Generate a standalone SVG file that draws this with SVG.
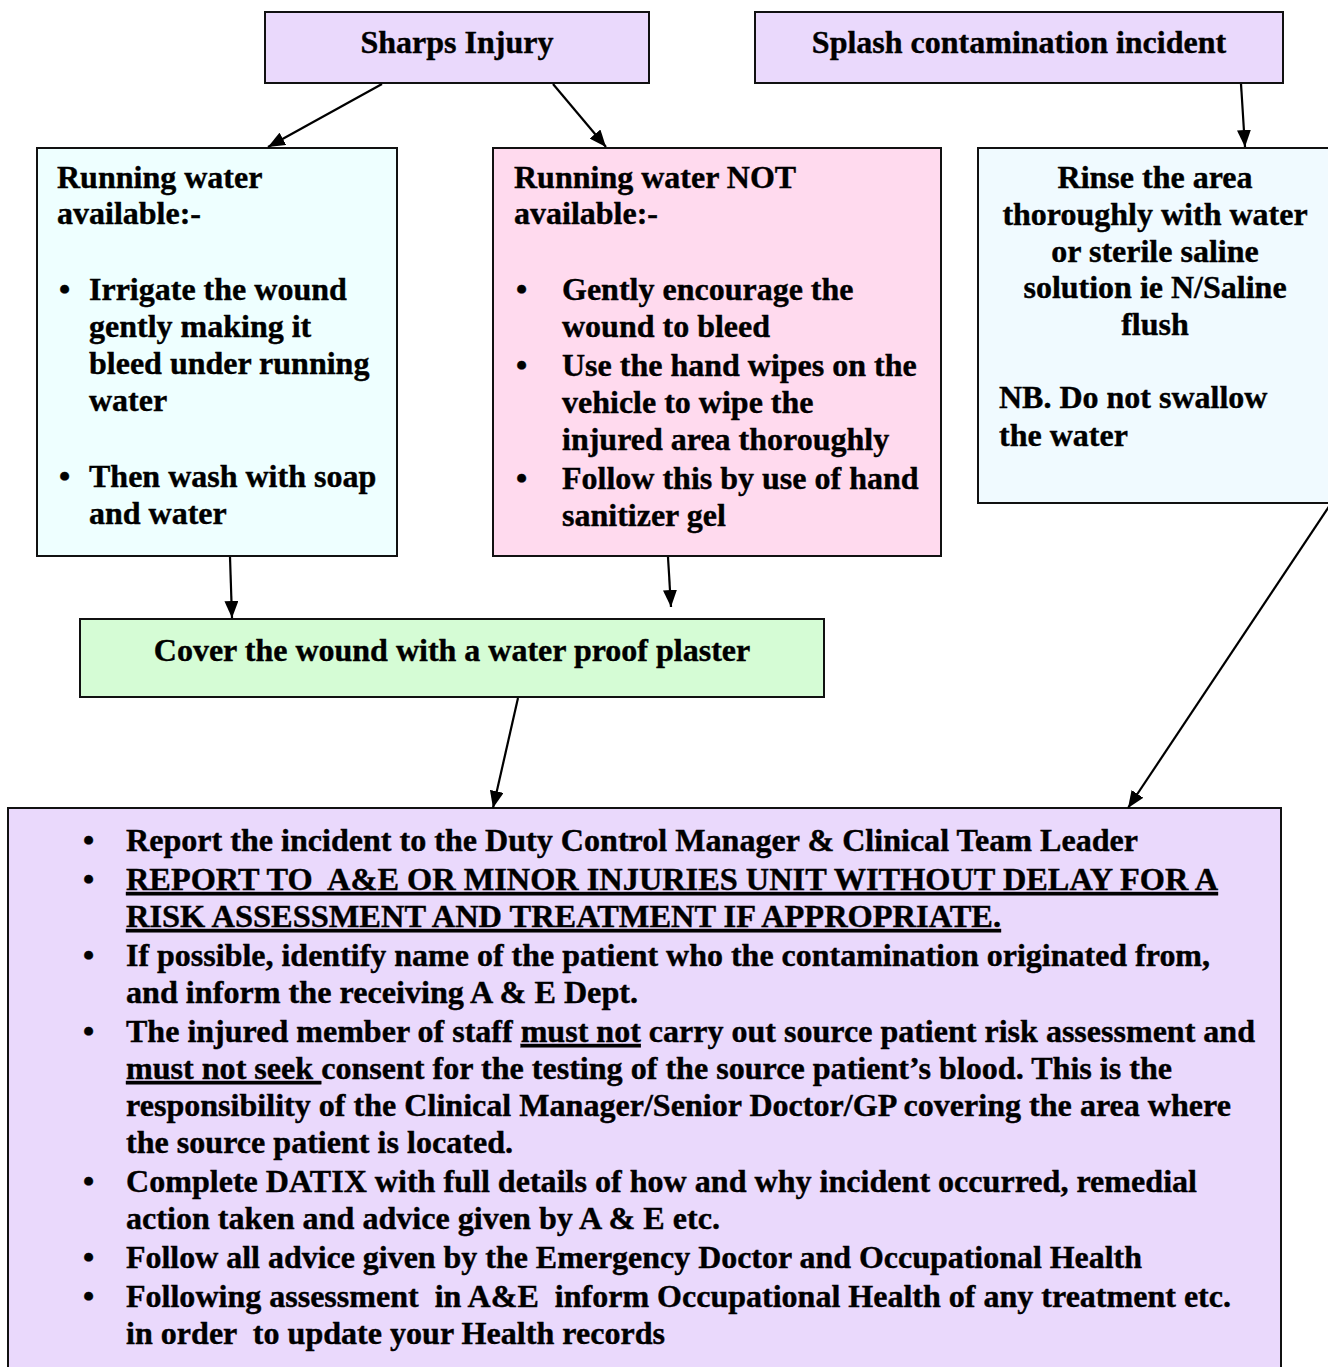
<svg xmlns="http://www.w3.org/2000/svg" width="1328" height="1367" viewBox="0 0 1328 1367">
<defs>
<style>
.box{stroke:#111;stroke-width:2}
.t{font-family:"Liberation Serif","Times New Roman",serif;font-weight:bold;font-size:32px;fill:#000;stroke:#000;stroke-width:0.4;white-space:pre}
.c{text-anchor:middle}
.u{text-decoration:underline}
.conn line{stroke:#000;stroke-width:2.2;marker-end:url(#ah)}
</style>
<marker id="ah" markerUnits="userSpaceOnUse" markerWidth="18" markerHeight="14" refX="17" refY="7" orient="auto">
<path d="M0,0 L17,7 L0,14 Z" fill="#000"/>
</marker>
</defs>
<rect width="1328" height="1367" fill="#fff"/>

<g id="sharps">
<rect class="box" x="265" y="12" width="384" height="71" fill="#EAD9FC"/>
<text class="t c" x="457" y="53">Sharps Injury</text>
</g>

<g id="splash">
<rect class="box" x="755" y="12" width="528" height="71" fill="#EAD9FC"/>
<text class="t c" x="1019" y="53">Splash contamination incident</text>
</g>

<g id="water-available">
<rect class="box" x="37" y="148" width="360" height="408" fill="#EEFFFF"/>
<text class="t" x="57" y="188">Running water</text>
<text class="t" x="57" y="224">available:-</text>
<text class="t" x="59" y="300">•</text>
<text class="t" x="89" y="300">Irrigate the wound</text>
<text class="t" x="89" y="337">gently making it</text>
<text class="t" x="89" y="374">bleed under running</text>
<text class="t" x="89" y="411">water</text>
<text class="t" x="59" y="487">•</text>
<text class="t" x="89" y="487">Then wash with soap</text>
<text class="t" x="89" y="524">and water</text>
</g>

<g id="water-not-available">
<rect class="box" x="493" y="148" width="448" height="408" fill="#FFDAEE"/>
<text class="t" x="514" y="188">Running water NOT</text>
<text class="t" x="514" y="224">available:-</text>
<text class="t" x="516" y="300">•</text>
<text class="t" x="562" y="300">Gently encourage the</text>
<text class="t" x="562" y="337">wound to bleed</text>
<text class="t" x="516" y="376">•</text>
<text class="t" x="562" y="376">Use the hand wipes on the</text>
<text class="t" x="562" y="413">vehicle to wipe the</text>
<text class="t" x="562" y="450">injured area thoroughly</text>
<text class="t" x="516" y="489">•</text>
<text class="t" x="562" y="489">Follow this by use of hand</text>
<text class="t" x="562" y="526">sanitizer gel</text>
</g>

<g id="rinse">
<rect class="box" x="978" y="148" width="370" height="355" fill="#F0FAFF"/>
<text class="t c" x="1155" y="188">Rinse the area</text>
<text class="t c" x="1155" y="225">thoroughly with water</text>
<text class="t c" x="1155" y="262">or sterile saline</text>
<text class="t c" x="1155" y="298">solution ie N/Saline</text>
<text class="t c" x="1155" y="335">flush</text>
<text class="t" x="999" y="408">NB. Do not swallow</text>
<text class="t" x="999" y="446">the water</text>
</g>

<g id="cover">
<rect class="box" x="80" y="619" width="744" height="78" fill="#D5FCD5"/>
<text class="t c" x="452" y="661">Cover the wound with a water proof plaster</text>
</g>

<g id="report">
<rect class="box" x="8" y="808" width="1273" height="580" fill="#EAD9FC"/>
<text class="t" x="83" y="851">•</text>
<text class="t" x="126" y="851" textLength="1012" lengthAdjust="spacingAndGlyphs">Report the incident to the Duty Control Manager &amp; Clinical Team Leader</text>
<text class="t" x="83" y="890">•</text>
<text class="t u" x="126" y="890" textLength="1092" lengthAdjust="spacingAndGlyphs">REPORT TO  A&amp;E OR MINOR INJURIES UNIT WITHOUT DELAY FOR A</text>
<text class="t u" x="126" y="927" textLength="875" lengthAdjust="spacingAndGlyphs">RISK ASSESSMENT AND TREATMENT IF APPROPRIATE.</text>
<text class="t" x="83" y="966">•</text>
<text class="t" x="126" y="966" textLength="1084" lengthAdjust="spacingAndGlyphs">If possible, identify name of the patient who the contamination originated from,</text>
<text class="t" x="126" y="1003" textLength="512" lengthAdjust="spacingAndGlyphs">and inform the receiving A &amp; E Dept.</text>
<text class="t" x="83" y="1042">•</text>
<text class="t" x="126" y="1042" textLength="1129" lengthAdjust="spacingAndGlyphs">The injured member of staff <tspan class="u">must not</tspan> carry out source patient risk assessment and</text>
<text class="t" x="126" y="1079" textLength="1046" lengthAdjust="spacingAndGlyphs"><tspan class="u">must not seek </tspan>consent for the testing of the source patient’s blood. This is the</text>
<text class="t" x="126" y="1116" textLength="1105" lengthAdjust="spacingAndGlyphs">responsibility of the Clinical Manager/Senior Doctor/GP covering the area where</text>
<text class="t" x="126" y="1153" textLength="387" lengthAdjust="spacingAndGlyphs">the source patient is located.</text>
<text class="t" x="83" y="1192">•</text>
<text class="t" x="126" y="1192" textLength="1071" lengthAdjust="spacingAndGlyphs">Complete DATIX with full details of how and why incident occurred, remedial</text>
<text class="t" x="126" y="1229" textLength="594" lengthAdjust="spacingAndGlyphs">action taken and advice given by A &amp; E etc.</text>
<text class="t" x="83" y="1268">•</text>
<text class="t" x="126" y="1268" textLength="1016" lengthAdjust="spacingAndGlyphs">Follow all advice given by the Emergency Doctor and Occupational Health</text>
<text class="t" x="83" y="1307">•</text>
<text class="t" x="126" y="1307" textLength="1105" lengthAdjust="spacingAndGlyphs">Following assessment  in A&amp;E  inform Occupational Health of any treatment etc.</text>
<text class="t" x="126" y="1344" textLength="539" lengthAdjust="spacingAndGlyphs">in order  to update your Health records</text>
</g>

<g id="connectors" class="conn">
<line x1="382" y1="84" x2="268" y2="147"/>
<line x1="553" y1="84" x2="606" y2="147"/>
<line x1="1241" y1="84" x2="1245" y2="147"/>
<line x1="230" y1="557" x2="232" y2="618"/>
<line x1="668" y1="557" x2="671" y2="607"/>
<line x1="518" y1="698" x2="493" y2="808"/>
<line x1="1332" y1="502" x2="1128" y2="808"/>
</g>
</svg>
